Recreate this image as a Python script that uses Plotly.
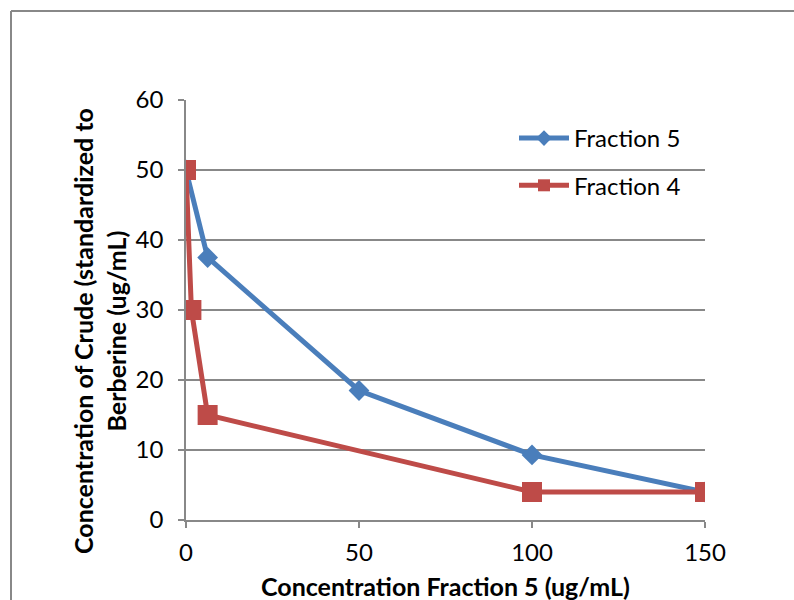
import plotly.graph_objects as go

# Series data
frac5_x = [0, 6.25, 50, 100, 150]
frac5_y = [50, 37.5, 18.5, 9.3, 4]
frac4_x = [0, 1.56, 6.25, 100, 150]
frac4_y = [50, 30, 15, 4, 4]

x_ticks = [0, 50, 100, 150]
y_ticks = [0, 10, 20, 30, 40, 50, 60]

BLUE = "#4A7EBB"
RED = "#BE4B48"
AXIS_GRAY = "#888888"
FONT = "Lato, 'Open Sans', sans-serif"

fig = go.Figure()
fig.add_trace(go.Scatter(
    x=frac5_x, y=frac5_y, mode="lines+markers", name="Fraction 5",
    legendgroup="f5",
    line=dict(color=BLUE, width=5),
    marker=dict(symbol="diamond", size=16, color=BLUE),
))
fig.add_trace(go.Scatter(
    x=frac4_x, y=frac4_y, mode="lines+markers", name="Fraction 4",
    legendgroup="f4",
    line=dict(color=RED, width=5),
    marker=dict(symbol="square", size=20, color=RED),
))

L, R, T, B = 186, 89, 100, 80
W, H = 794, 600
pw, ph = W - L - R, H - T - B


def px_x(p):
    return (p - L) / pw


def px_y(p):
    return 1 - (p - T) / ph


fig.update_layout(
    width=W, height=H,
    margin=dict(l=L, r=R, t=T, b=B),
    paper_bgcolor="white", plot_bgcolor="white",
    font=dict(family=FONT, size=24, color="#000000"),
    showlegend=True,
    legend=dict(
        x=px_x(514), y=px_y(116), xanchor="left", yanchor="top",
        bgcolor="rgba(0,0,0,0)", font=dict(size=24),
        traceorder="grouped", tracegroupgap=13, itemsizing="constant",
        itemwidth=50,
    ),
    xaxis=dict(
        range=[0, 150], tickvals=x_ticks, showgrid=False, zeroline=False,
        showline=True, linecolor=AXIS_GRAY, linewidth=1.5,
        ticks="outside", ticklen=6, tickcolor=AXIS_GRAY, tickwidth=1.5,
        tickfont=dict(size=24), fixedrange=True, ticklabelstandoff=4,
    ),
    yaxis=dict(
        range=[0, 60], tickvals=y_ticks, showgrid=True, gridcolor=AXIS_GRAY,
        gridwidth=1.5, zeroline=False,
        showline=True, linecolor=AXIS_GRAY, linewidth=1.5,
        ticks="outside", ticklen=6, tickcolor=AXIS_GRAY, tickwidth=1.5,
        tickfont=dict(size=24), fixedrange=True, ticklabelstandoff=10,
    ),
    annotations=[
        dict(
            text="<b>Concentration Fraction 5 (ug/mL)</b>",
            xref="paper", yref="paper", x=0.5, y=px_y(586),
            xanchor="center", yanchor="middle", showarrow=False,
            font=dict(size=25),
        ),
        dict(
            text="<b>Concentration of Crude (standardized to<br>Berberine (ug/mL)</b>",
            xref="paper", yref="paper", x=px_x(99), y=px_y(331),
            xanchor="center", yanchor="middle", showarrow=False,
            textangle=-90, font=dict(size=25),
        ),
    ],
    shapes=[
        dict(type="line", xref="paper", yref="paper",
             x0=px_x(11), x1=px_x(800), y0=px_y(11), y1=px_y(11),
             line=dict(color=AXIS_GRAY, width=2)),
        dict(type="line", xref="paper", yref="paper",
             x0=px_x(11), x1=px_x(11), y0=px_y(11), y1=px_y(610),
             line=dict(color=AXIS_GRAY, width=2)),
    ],
)

fig.write_html("out.html")
